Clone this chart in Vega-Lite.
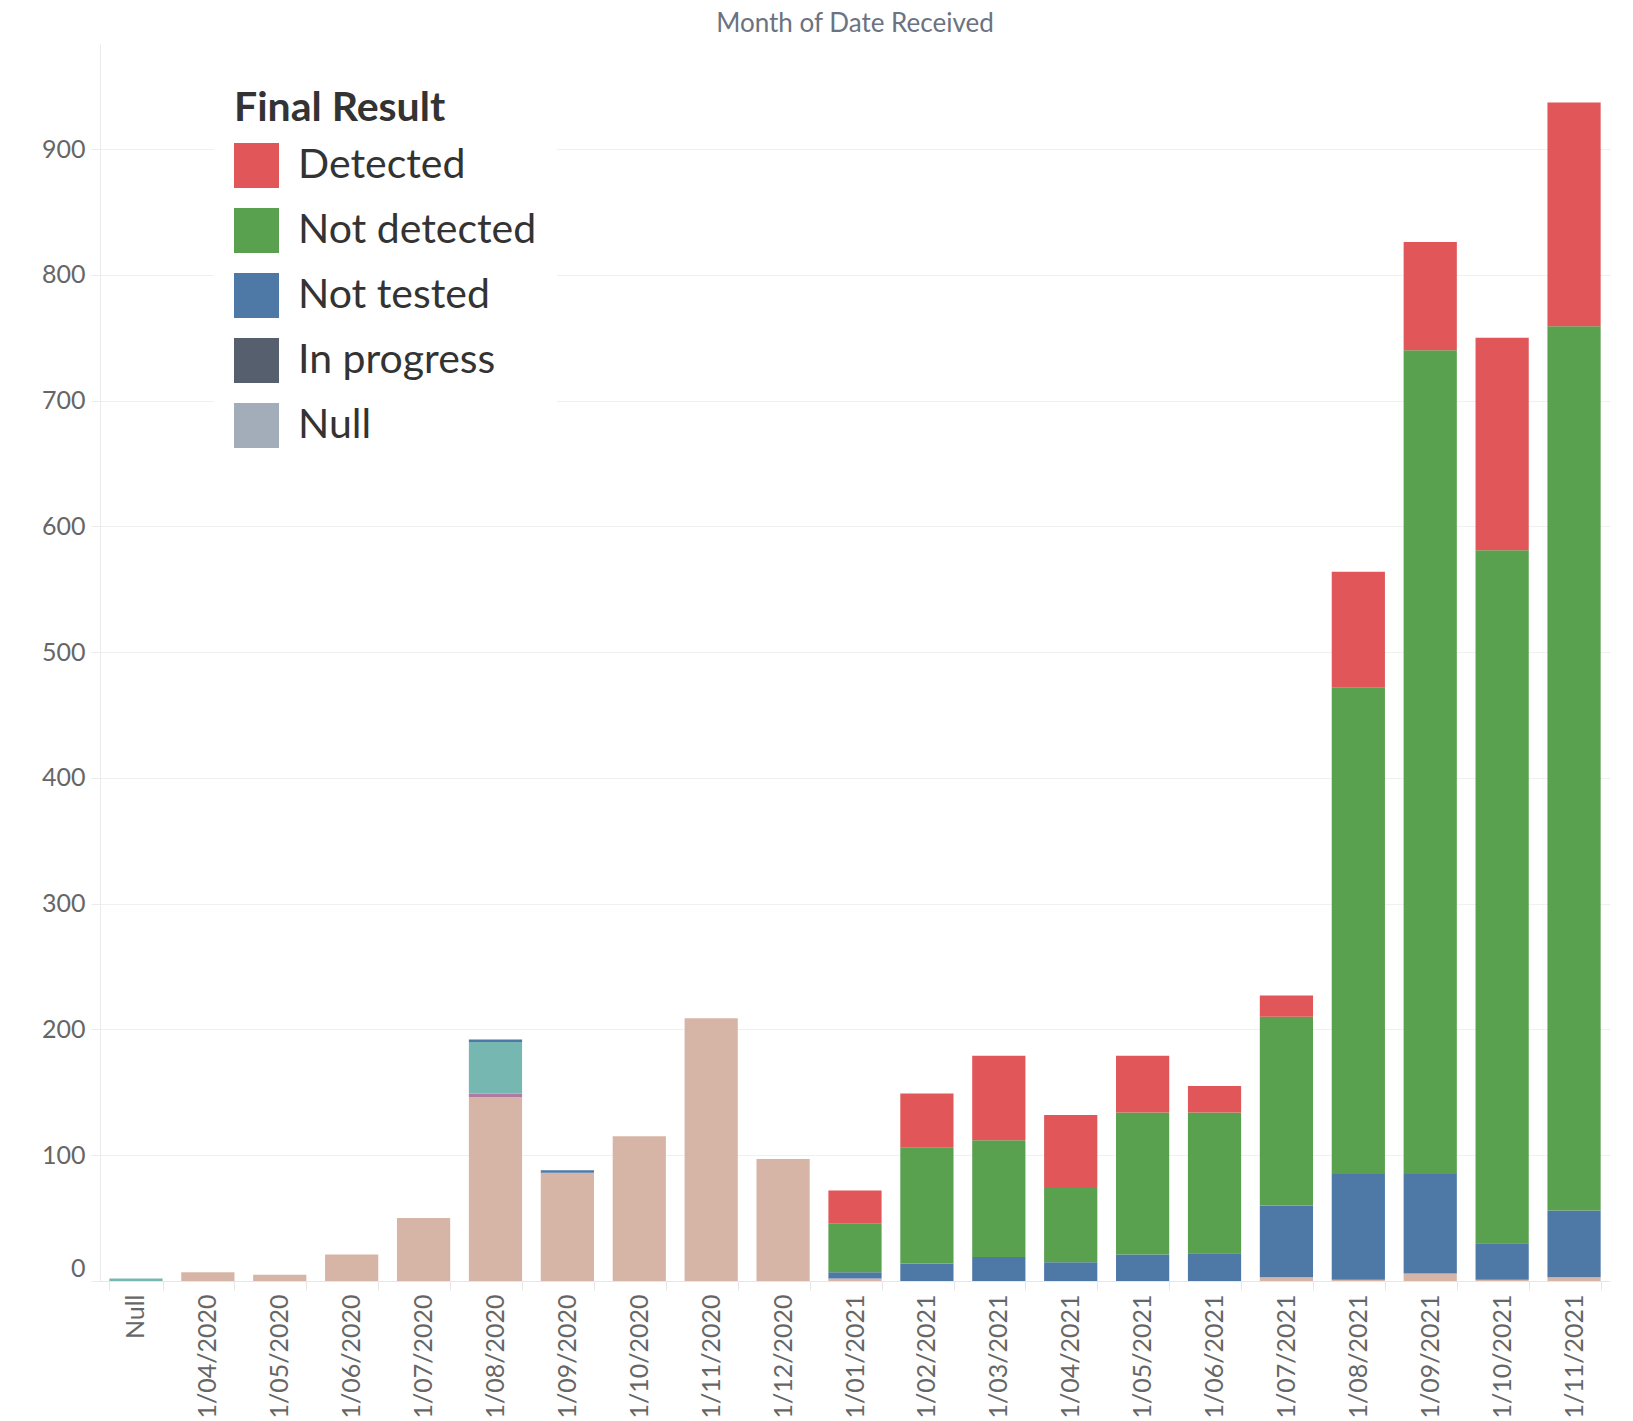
{
  "$schema": "https://vega.github.io/schema/vega-lite/v6.json",
  "autosize": {"type": "none"},
  "width": 1510,
  "height": 1237,
  "padding": {"left": 100, "top": 44, "right": 23, "bottom": 140},
  "background": "white",
  "title": {
    "text": "Month of Date Received",
    "font": "Lato",
    "fontSize": 26,
    "fontWeight": "normal",
    "color": "#6b7280",
    "anchor": "middle",
    "offset": 7
  },
  "config": {
    "view": {"stroke": null},
    "font": "Lato"
  },
  "data": {
    "values": [
      {"month": "Null", "result": "Pending", "count": 2},
      {"month": "1/04/2020", "result": "Unknown", "count": 7},
      {"month": "1/05/2020", "result": "Unknown", "count": 5},
      {"month": "1/06/2020", "result": "Unknown", "count": 21},
      {"month": "1/07/2020", "result": "Unknown", "count": 50},
      {"month": "1/08/2020", "result": "Unknown", "count": 146},
      {"month": "1/08/2020", "result": "Rejected", "count": 3},
      {"month": "1/08/2020", "result": "Pending", "count": 41},
      {"month": "1/08/2020", "result": "Not tested", "count": 2},
      {"month": "1/09/2020", "result": "Unknown", "count": 86},
      {"month": "1/09/2020", "result": "Not tested", "count": 2},
      {"month": "1/10/2020", "result": "Unknown", "count": 115},
      {"month": "1/11/2020", "result": "Unknown", "count": 209},
      {"month": "1/12/2020", "result": "Unknown", "count": 97},
      {"month": "1/01/2021", "result": "Unknown", "count": 2},
      {"month": "1/01/2021", "result": "Not tested", "count": 5},
      {"month": "1/01/2021", "result": "Not detected", "count": 39},
      {"month": "1/01/2021", "result": "Detected", "count": 26},
      {"month": "1/02/2021", "result": "Not tested", "count": 14},
      {"month": "1/02/2021", "result": "Not detected", "count": 92},
      {"month": "1/02/2021", "result": "Detected", "count": 43},
      {"month": "1/03/2021", "result": "Not tested", "count": 19},
      {"month": "1/03/2021", "result": "Not detected", "count": 93},
      {"month": "1/03/2021", "result": "Detected", "count": 67},
      {"month": "1/04/2021", "result": "Not tested", "count": 15},
      {"month": "1/04/2021", "result": "Not detected", "count": 59},
      {"month": "1/04/2021", "result": "Detected", "count": 58},
      {"month": "1/05/2021", "result": "Not tested", "count": 21},
      {"month": "1/05/2021", "result": "Not detected", "count": 113},
      {"month": "1/05/2021", "result": "Detected", "count": 45},
      {"month": "1/06/2021", "result": "Not tested", "count": 22},
      {"month": "1/06/2021", "result": "Not detected", "count": 112},
      {"month": "1/06/2021", "result": "Detected", "count": 21},
      {"month": "1/07/2021", "result": "Unknown", "count": 3},
      {"month": "1/07/2021", "result": "Not tested", "count": 57},
      {"month": "1/07/2021", "result": "Not detected", "count": 150},
      {"month": "1/07/2021", "result": "Detected", "count": 17},
      {"month": "1/08/2021", "result": "Unknown", "count": 1},
      {"month": "1/08/2021", "result": "Not tested", "count": 84},
      {"month": "1/08/2021", "result": "Not detected", "count": 387},
      {"month": "1/08/2021", "result": "Detected", "count": 92},
      {"month": "1/09/2021", "result": "Unknown", "count": 6},
      {"month": "1/09/2021", "result": "Not tested", "count": 79},
      {"month": "1/09/2021", "result": "Not detected", "count": 655},
      {"month": "1/09/2021", "result": "Detected", "count": 86},
      {"month": "1/10/2021", "result": "Unknown", "count": 1},
      {"month": "1/10/2021", "result": "Not tested", "count": 29},
      {"month": "1/10/2021", "result": "Not detected", "count": 551},
      {"month": "1/10/2021", "result": "Detected", "count": 169},
      {"month": "1/11/2021", "result": "Unknown", "count": 3},
      {"month": "1/11/2021", "result": "Not tested", "count": 53},
      {"month": "1/11/2021", "result": "Not detected", "count": 703},
      {"month": "1/11/2021", "result": "Detected", "count": 178}
    ]
  },
  "mark": {"type": "bar"},
  "encoding": {
    "x": {
      "field": "month",
      "type": "nominal",
      "sort": ["Null","1/04/2020","1/05/2020","1/06/2020","1/07/2020","1/08/2020","1/09/2020","1/10/2020","1/11/2020","1/12/2020","1/01/2021","1/02/2021","1/03/2021","1/04/2021","1/05/2021","1/06/2021","1/07/2021","1/08/2021","1/09/2021","1/10/2021","1/11/2021"],
      "scale": {"paddingInner": 0.26, "paddingOuter": 0.13},
      "axis": {
        "title": null,
        "labelAngle": -90,
        "labelFontSize": 25,
        "labelFont": "Lato",
        "labelColor": "#666666",
        "labelPadding": 4,
        "tickBand": "extent",
        "tickSize": 9,
        "tickColor": "#e6e6e6",
        "domainColor": "#e6e6e6",
        "grid": false
      }
    },
    "y": {
      "aggregate": "sum",
      "field": "count",
      "type": "quantitative",
      "stack": "zero",
      "scale": {"domain": [0, 983.5], "nice": false},
      "axis": {
        "title": null,
        "values": [0,100,200,300,400,500,600,700,800,900],
        "labelFontSize": 25,
        "labelFont": "Lato",
        "labelColor": "#666666",
        "labelPadding": 6,
        "labelBaseline": {"condition": {"test": "datum.value === 0", "value": "bottom"}, "value": "middle"},
        "tickSize": 9,
        "tickColor": "#ebebeb",
        "domainColor": "#ebebeb",
        "gridColor": "#f0f0f0",
        "gridWidth": 1
      }
    },
    "color": {
      "field": "result",
      "type": "nominal",
      "scale": {
        "domain": ["Detected","Not detected","Not tested","In progress","Null","Pending","Rejected","Unknown"],
        "range": ["#e15759","#59a14f","#4e79a7","#555f6e","#a3acb9","#76b7b2","#b07aa1","#d7b5a6"]
      },
      "legend": {
        "title": "Final Result",
        "values": ["Detected","Not detected","Not tested","In progress","Null"],
        "orient": "none",
        "legendX": 114,
        "legendY": 25,
        "padding": 20,
        "fillColor": "white",
        "titleFont": "Lato",
        "titleFontSize": 41,
        "titleFontWeight": "bold",
        "titleColor": "#333333",
        "titlePadding": 13,
        "titleLimit": 600,
        "labelFont": "Lato",
        "labelFontSize": 41,
        "labelColor": "#333333",
        "labelOffset": 19,
        "labelLimit": 600,
        "symbolType": "square",
        "symbolSize": 2025,
        "symbolStrokeWidth": 0,
        "symbolOpacity": 1,
        "rowPadding": 20
      }
    }
  }
}
